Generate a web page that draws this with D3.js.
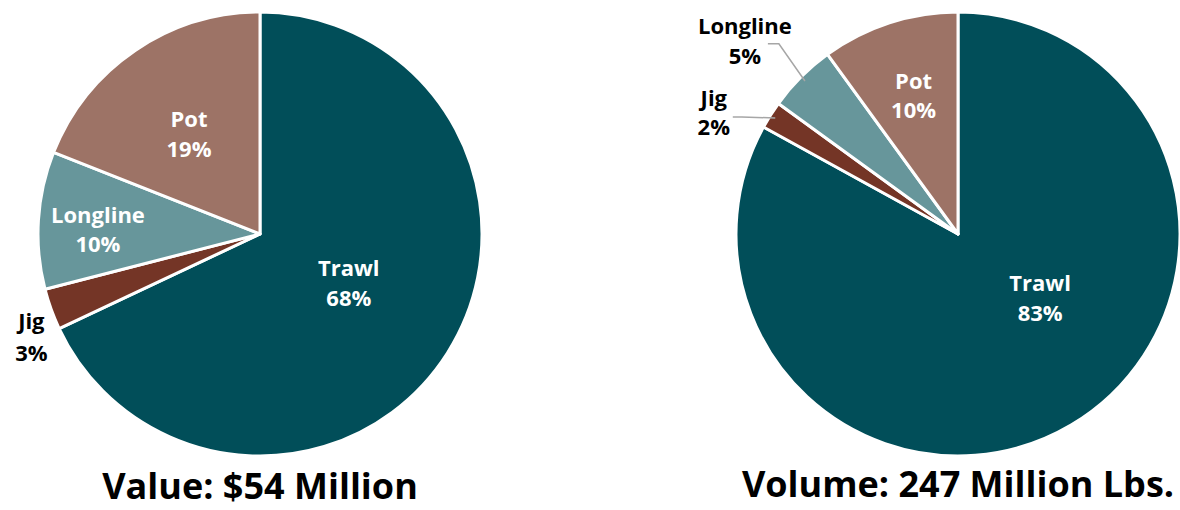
<!DOCTYPE html>
<html>
<head>
<meta charset="utf-8">
<script src="https://cdn.jsdelivr.net/npm/d3@7"></script>
<style>
  body { margin: 0; background: #fff; }
  svg { display: block; }
</style>
</head>
<body>
<div id="draw-area"></div>
<script>
// gear types, same order for both pies (clockwise from 12 o'clock)
var gears = ["Trawl", "Jig", "Longline", "Pot"];
var valueShare = [68, 3, 10, 19];
var volumeShare = [83, 2, 5, 10];
var valueTitle = "Value: $54 Million";
var volumeTitle = "Volume: 247 Million Lbs.";

var colors = ["#014e59", "#743526", "#67969b", "#9d7366"];

// label layout: offsets from pie centre as a fraction of radius, line gap in px
var valueLabels = [
  {dx: 0.40, dy: 0.22, gap: 30, inside: true},
  {dx: -1.03, dy: 0.46, gap: 32, inside: false},
  {dx: -0.73, dy: -0.02, gap: 29, inside: true},
  {dx: -0.32, dy: -0.45, gap: 30, inside: true}
];
var volumeLabels = [
  {dx: 0.37, dy: 0.29, gap: 30, inside: true},
  {dx: -1.10, dy: -0.545, gap: 29, inside: false, leader: true},
  {dx: -0.96, dy: -0.87, gap: 30, inside: false, leader: true},
  {dx: -0.20, dy: -0.62, gap: 29, inside: true}
];

var W = 1180, H = 510, R = 222;

var svg = d3.select("#draw-area").append("svg")
    .attr("width", W)
    .attr("height", H)
    .style("font-family", "'Open Sans', sans-serif")
    .style("font-weight", "bold");

var pie = d3.pie().sort(null).value(function(d){ return d.v; });
var arc = d3.arc().innerRadius(0).outerRadius(R);
var edgeArc = d3.arc().innerRadius(R * 0.975).outerRadius(R * 0.975);

function drawPie(cx, cy, shares, labels, title, titleY){
  var data = gears.map(function(g, i){ return {name: g, v: shares[i], i: i}; });
  var g = svg.append("g").attr("transform", "translate(" + cx + "," + cy + ")");

  var arcs = pie(data);

  g.selectAll("path.slice")
    .data(arcs)
    .enter().append("path")
      .attr("class", "slice")
      .attr("d", arc)
      .attr("fill", function(d){ return colors[d.data.i]; })
      .attr("stroke", "#fff")
      .attr("stroke-width", 3)
      .attr("stroke-linejoin", "round");

  arcs.forEach(function(d){
    var lab = labels[d.data.i];
    var x = lab.dx * R, y = lab.dy * R;

    if(lab.leader){
      // leader line: short horizontal, then to the slice edge
      var end = edgeArc.centroid(d);
      var isJig = d.data.name === "Jig";
      var sx = x + (isJig ? 19 : 23);
      var sy = y + (isJig ? 4 : 3);
      var hx = sx + (isJig ? 9 : 11);
      g.append("polyline")
        .attr("points", [[sx, sy], [hx, sy], end].map(function(p){ return p.join(","); }).join(" "))
        .attr("fill", "none")
        .attr("stroke", "#a6a6a6")
        .attr("stroke-width", 1.5);
    }

    var t = g.append("text")
      .attr("text-anchor", "middle")
      .attr("font-size", 22)
      .attr("fill", lab.inside ? "#fff" : "#000");
    t.append("tspan").attr("x", x).attr("y", y - 7).text(d.data.name);
    t.append("tspan").attr("x", x).attr("y", y - 7 + lab.gap).text(d.data.v + "%");
  });

  svg.append("text")
    .attr("x", cx)
    .attr("y", titleY)
    .attr("text-anchor", "middle")
    .attr("font-size", 36)
    .attr("fill", "#000")
    .text(title);
}

drawPie(260, 234, valueShare, valueLabels, valueTitle, 499);
drawPie(958, 234, volumeShare, volumeLabels, volumeTitle, 497);
</script>
</body>
</html>
